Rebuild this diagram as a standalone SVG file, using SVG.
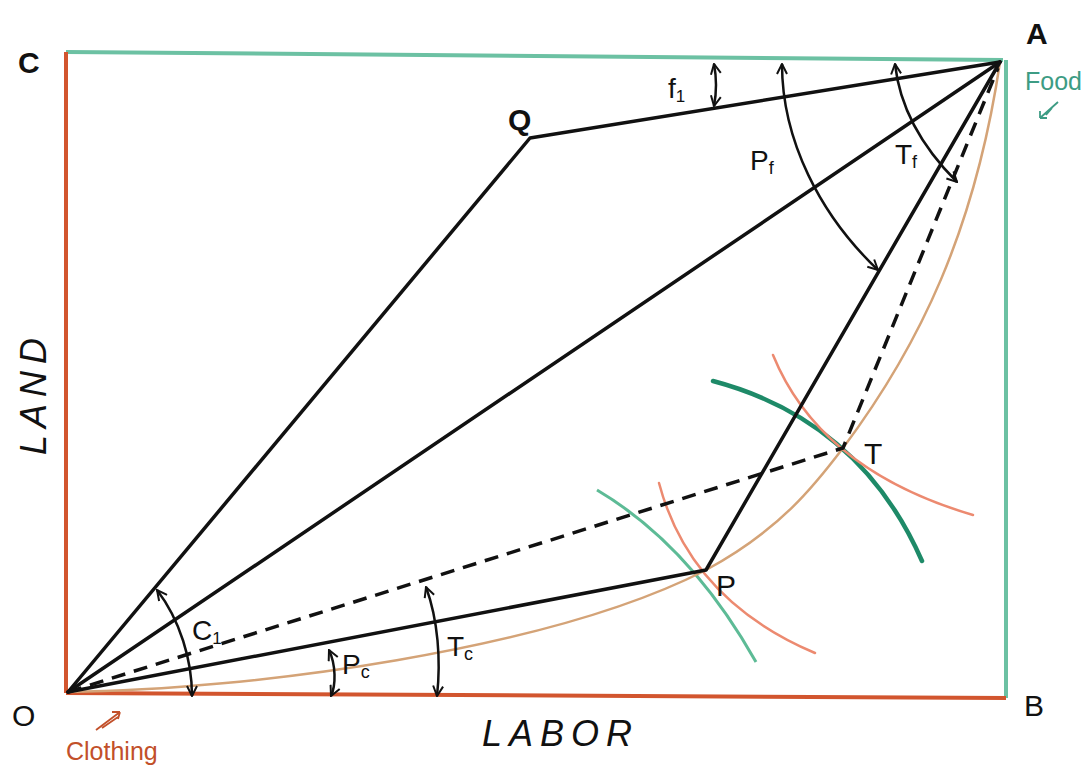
<svg xmlns="http://www.w3.org/2000/svg" width="1086" height="782" viewBox="0 0 1086 782">
<defs>
<style>
.blk{fill:none;stroke:#111;stroke-width:3.5;stroke-linecap:round;stroke-linejoin:round}
.dash{fill:none;stroke:#111;stroke-width:3.5;stroke-dasharray:14 9}
.arc{fill:none;stroke:#111;stroke-width:2.5;marker-start:url(#ah);marker-end:url(#ah)}
.grn{fill:none;stroke:#6cc1a3;stroke-width:4}
.red{fill:none;stroke:#d2552e;stroke-width:4}
.cur{fill:none;stroke:#d4a377;stroke-width:2.5}
.lg{fill:none;stroke:#5dbb96;stroke-width:3}
.dg{fill:none;stroke:#1e8a68;stroke-width:4.5;stroke-linecap:round}
.sal{fill:none;stroke:#ec8a70;stroke-width:2.5;stroke-linecap:round}
text{font-family:"Liberation Sans",Arial,sans-serif;fill:#111}
.lbl{font-size:30px}
.ax{font-size:36px;font-style:italic;letter-spacing:7px}
.sm{font-size:28px}
</style>
<marker id="ah" viewBox="0 0 12 12" refX="11" refY="6" markerWidth="12" markerHeight="12" markerUnits="userSpaceOnUse" orient="auto-start-reverse">
<path d="M1,1 L11,6 L1,11" fill="none" stroke="#111" stroke-width="2"/>
</marker>
</defs>
<rect width="1086" height="782" fill="#fff"/>

<g id="frame">
<line class="grn" x1="66" y1="52" x2="1003" y2="60"/>
<line class="grn" x1="1006" y1="60" x2="1006" y2="698"/>
<line class="red" x1="66" y1="52" x2="66" y2="693"/>
<line class="red" x1="66" y1="693" x2="1006" y2="698"/>
</g>

<g id="isoquants">
<path class="lg" d="M597,490 Q690,545 756,662"/>
<path class="dg" d="M713,381 Q860,420 922,561"/>
<path class="sal" d="M659,483 Q690,600 815,653"/>
<path class="sal" d="M773,355 Q820,470 973,515"/>
</g>

<g id="contract-curve">
<path class="cur" d="M68,692 C250,690 550,650 706,570 C780,530 815,485 843,448 C920,345 975,230 1000,62"/>
</g>

<g id="connectors">
<path class="blk" d="M68,692 L530,138 L1000,62"/>
<path class="blk" d="M68,692 L1000,62"/>
<path class="blk" d="M68,692 L706,570 L1000,62"/>
<path class="dash" d="M68,692 L843,448 L998,68"/>
<path class="arc" d="M714,64 Q718,85 714,106"/>
<path class="arc" d="M782,64 C782,140 820,215 878,270"/>
<path class="arc" d="M895,64 C900,110 925,150 957,182"/>
<path class="arc" d="M157,590 C180,620 192,660 192,696"/>
<path class="arc" d="M329,650 C336,665 336,685 331,696"/>
<path class="arc" d="M426,587 C438,620 441,660 437,696"/>
</g>

<g id="node-C"><text class="lbl" x="18" y="73" font-weight="bold">C</text></g>
<g id="node-A"><text class="lbl" x="1026" y="44" font-weight="bold">A</text></g>
<g id="node-B"><text class="lbl" x="1024" y="716">B</text></g>
<g id="node-O"><text class="lbl" x="12" y="726">O</text></g>
<g id="node-Q"><text class="lbl" x="508" y="130" font-weight="bold">Q</text></g>
<g id="node-P"><text class="lbl" x="716" y="596">P</text></g>
<g id="node-T"><text class="lbl" x="864" y="464">T</text></g>

<g id="food">
<text x="1025" y="90" font-size="25" style="fill:#3d9c84">Food</text>
<path d="M1058,102 L1040,118 M1052,108 L1046,115 M1040,118 L1040,111 M1040,118 L1047,118" fill="none" stroke="#3d9c84" stroke-width="1.8"/>
</g>
<g id="clothing">
<text x="66" y="760" font-size="25" style="fill:#c2502a">Clothing</text>
<path d="M96,730 L120,712 M102,728 L118,717 M120,712 L112,712 M120,712 L118,719" fill="none" stroke="#c2502a" stroke-width="1.8"/>
</g>

<g id="axis-labels">
<text class="ax" x="482" y="746">LABOR</text>
<text class="ax" transform="translate(46,455) rotate(-90)">LAND</text>
</g>

<g id="angle-labels">
<text class="sm" x="668" y="98">f<tspan font-size="17" dy="4">1</tspan></text>
<text class="sm" x="750" y="170">P<tspan font-size="18" dy="4">f</tspan></text>
<text class="sm" x="895" y="164">T<tspan font-size="18" dy="4">f</tspan></text>
<text class="sm" x="192" y="640">C<tspan font-size="17" dy="4">1</tspan></text>
<text class="sm" x="342" y="674">P<tspan font-size="18" dy="4">c</tspan></text>
<text class="sm" x="447" y="656">T<tspan font-size="18" dy="4">c</tspan></text>
</g>
</svg>
